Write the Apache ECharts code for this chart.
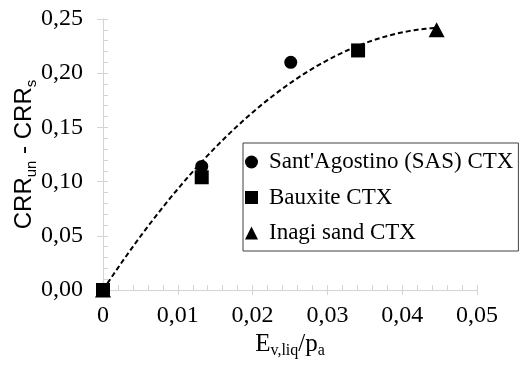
<!DOCTYPE html>
<html>
<head>
<meta charset="utf-8">
<script src="https://cdn.jsdelivr.net/npm/echarts@6/dist/echarts.min.js"></script>
<style>
  html, body { margin: 0; padding: 0; background: #fff; }
  #chart { width: 524px; height: 366px; }
</style>
</head>
<body>
<div id="chart"></div>
<script>
// Measured points [E_v,liq/p_a, CRR_un - CRR_s]
const sasPoints = [[0, 0], [0.0132, 0.114], [0.0251, 0.210]];
const bauxitePoints = [[0, 0], [0.0132, 0.104], [0.0341, 0.221]];
const inagiPoints = [[0, 0], [0.0446, 0.240]];

const seriesNames = ["Sant'Agostino (SAS) CTX", 'Bauxite CTX', 'Inagi sand CTX'];

const xTickValues = [0, 0.01, 0.02, 0.03, 0.04, 0.05];
const xTickLabels = ['0', '0,01', '0,02', '0,03', '0,04', '0,05'];
const yTickValues = [0, 0.05, 0.10, 0.15, 0.20, 0.25];
const yTickLabels = ['0,00', '0,05', '0,10', '0,15', '0,20', '0,25'];

// Second-order polynomial trend through the origin (least squares: y = a x + b x^2)
function fitQuadraticThroughOrigin(points) {
  let s2 = 0, s3 = 0, s4 = 0, sxy = 0, sx2y = 0;
  points.forEach(([x, y]) => {
    s2 += x * x; s3 += x * x * x; s4 += x * x * x * x;
    sxy += x * y; sx2y += x * x * y;
  });
  const det = s2 * s4 - s3 * s3;
  return { a: (sxy * s4 - s3 * sx2y) / det, b: (s2 * sx2y - s3 * sxy) / det };
}
const allPoints = sasPoints.concat(bauxitePoints, inagiPoints);
const fit = fitQuadraticThroughOrigin(allPoints);
const xMaxData = Math.max.apply(null, allPoints.map(p => p[0]));
const trendPoints = [];
for (let i = 0; i <= 60; i++) {
  const x = xMaxData * i / 60;
  trendPoints.push([x, fit.a * x + fit.b * x * x]);
}

function labelFor(values, labels) {
  return v => {
    const i = values.findIndex(t => Math.abs(t - v) < 1e-9);
    return i >= 0 ? labels[i] : '';
  };
}

const serif = 'Liberation Serif, Times New Roman, serif';
const sans = 'Liberation Sans, Arial, sans-serif';
const axisGrey = '#d4d4d4';

const chart = echarts.init(document.getElementById('chart'), null, { renderer: 'canvas' });

const baseX = { type: 'value', gridIndex: 0, min: 0, max: 0.05, interval: 0.01, position: 'bottom', splitLine: { show: false } };
const baseY = { type: 'value', gridIndex: 0, min: 0, max: 0.25, interval: 0.05, position: 'left', splitLine: { show: false } };

chart.setOption({
  animation: false,
  backgroundColor: '#fff',
  grid: { left: 103, right: 47, top: 19, bottom: 76, containLabel: false, outerBoundsMode: 'none' },
  xAxis: [
    Object.assign({}, baseX, {
      axisLine: { show: true, lineStyle: { color: axisGrey, width: 1 } },
      axisTick: { show: true, inside: true, length: 5, lineStyle: { color: axisGrey } },
      minorTick: { show: true, splitNumber: 5, length: 5, lineStyle: { color: axisGrey } },
      axisLabel: { margin: 14, color: '#000', fontFamily: serif, fontSize: 24, formatter: labelFor(xTickValues, xTickLabels) },
      name: '{m|E}{s|v,liq}{m|/p}{s|a}',
      nameLocation: 'middle',
      nameGap: 39,
      nameMoveOverlap: false,
      nameTextStyle: {
        color: '#000',
        rich: {
          m: { fontFamily: serif, fontSize: 25, lineHeight: 30, color: '#000' },
          s: { fontFamily: serif, fontSize: 16, lineHeight: 15, verticalAlign: 'bottom', color: '#000' }
        }
      }
    }),
    Object.assign({}, baseX, {
      axisLine: { show: false },
      axisTick: { show: true, inside: false, length: 5, lineStyle: { color: axisGrey } },
      minorTick: { show: false },
      axisLabel: { show: false }
    })
  ],
  yAxis: [
    Object.assign({}, baseY, {
      axisLine: { show: true, lineStyle: { color: axisGrey, width: 1 } },
      axisTick: { show: true, inside: true, length: 5, lineStyle: { color: axisGrey } },
      minorTick: { show: true, splitNumber: 5, length: 5, lineStyle: { color: axisGrey } },
      axisLabel: { margin: 20, color: '#000', fontFamily: serif, fontSize: 24, formatter: labelFor(yTickValues, yTickLabels) },
      name: '{m|CRR}{s|un}{m| - CRR}{s|s}',
      nameLocation: 'middle',
      nameGap: 64,
      nameMoveOverlap: false,
      nameTextStyle: {
        color: '#000',
        rich: {
          m: { fontFamily: sans, fontSize: 24, lineHeight: 30, color: '#000' },
          s: { fontFamily: sans, fontSize: 15, lineHeight: 14, verticalAlign: 'bottom', color: '#000' }
        }
      }
    }),
    Object.assign({}, baseY, {
      axisLine: { show: false },
      axisTick: { show: true, inside: false, length: 6, lineStyle: { color: axisGrey } },
      minorTick: { show: false },
      axisLabel: { show: false }
    })
  ],
  legend: {
    orient: 'vertical',
    left: 243,
    top: 143,
    padding: [7, 5, 6, 2],
    itemGap: 11.5,
    itemWidth: 13,
    itemHeight: 13,
    borderColor: '#404040',
    borderWidth: 1,
    backgroundColor: '#fff',
    textStyle: { fontFamily: serif, fontSize: 23, lineHeight: 24, color: '#000', padding: [0, 0, 0, 6] },
    data: [
      { name: seriesNames[0], icon: 'circle' },
      { name: seriesNames[1], icon: 'rect' },
      { name: seriesNames[2], icon: 'triangle' }
    ]
  },
  series: [
    {
      name: 'trend',
      type: 'line',
      data: trendPoints,
      showSymbol: false,
      symbol: 'none',
      smooth: false,
      silent: true,
      lineStyle: { color: '#000', width: 2, type: [5, 3] },
      z: 1
    },
    {
      name: seriesNames[0],
      type: 'scatter',
      data: sasPoints,
      symbol: 'circle',
      symbolSize: 13,
      itemStyle: { color: '#000', opacity: 1 },
      z: 3
    },
    {
      name: seriesNames[2],
      type: 'scatter',
      data: inagiPoints,
      symbol: 'triangle',
      symbolSize: [16, 15],
      itemStyle: { color: '#000', opacity: 1 },
      z: 3
    },
    {
      name: seriesNames[1],
      type: 'scatter',
      data: bauxitePoints,
      symbol: 'rect',
      symbolSize: 14,
      itemStyle: { color: '#000', opacity: 1 },
      z: 4
    }
  ]
});
</script>
</body>
</html>
